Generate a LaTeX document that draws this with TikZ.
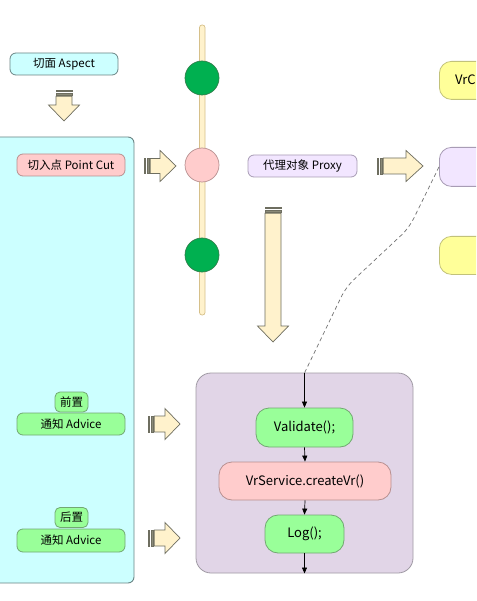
\documentclass[tikz,border=0pt]{standalone}
\usepackage{fontspec}
\setmainfont{Noto Sans CJK SC}
\usetikzlibrary{arrows.meta}
\definecolor{cyanfill}{HTML}{CCFFFF}
\definecolor{cyanline}{HTML}{6B8585}
\definecolor{pinkfill}{HTML}{FFCCCC}
\definecolor{pinkline}{HTML}{B89090}
\definecolor{lavfill}{HTML}{F2E6FF}
\definecolor{lavline}{HTML}{A89CB5}
\definecolor{yelfill}{HTML}{FFFF99}
\definecolor{yelline}{HTML}{C2C27A}
\definecolor{grnfill}{HTML}{99FF99}
\definecolor{grnline}{HTML}{72A872}
\definecolor{panelfill}{HTML}{E1D5E7}
\definecolor{panelline}{HTML}{A09AA4}
\definecolor{barfill}{HTML}{FFF2CC}
\definecolor{barline}{HTML}{D6C08A}
\definecolor{dotgreen}{HTML}{00B050}
\definecolor{dotgreenline}{HTML}{2E7F4A}
\definecolor{arrline}{HTML}{6E6E60}
\definecolor{stripe}{HTML}{8A8A78}
\newcommand\myRarrow[6]{% x0, headx, x1, yc, bodyhalf, headhalf
  \draw[stripebox] (#1,{#4-#5}) rectangle ({#1+1.6},{#4+#5});
  \draw[stripebox] ({#1+2.8},{#4-#5}) rectangle ({#1+5.2},{#4+#5});
  \draw[arrowbody] ({#1+6.2},{#4-#5}) -- (#2,{#4-#5}) -- (#2,{#4-#6}) -- (#3,#4)
     -- (#2,{#4+#6}) -- (#2,{#4+#5}) -- ({#1+6.2},{#4+#5}) -- cycle;
}
\newcommand\myDarrow[6]{% xc, y0, heady, y1, bodyhalf, headhalf
  \draw[stripebox] ({#1-#5},#2) rectangle ({#1+#5},{#2+1.6});
  \draw[stripebox] ({#1-#5},{#2+2.8}) rectangle ({#1+#5},{#2+5.2});
  \draw[arrowbody] ({#1-#5},{#2+6.2}) -- ({#1-#5},#3) -- ({#1-#6},#3) -- (#1,#4)
     -- ({#1+#6},#3) -- ({#1+#5},#3) -- ({#1+#5},{#2+6.2}) -- cycle;
}
\begin{document}
\begin{tikzpicture}[x=1pt,y=-1pt,
  lbl/.style={draw, line width=0.8pt, rounded corners=6pt, inner sep=0pt,
    minimum height=22pt, minimum width=108pt, font=\fontsize{11.5}{13}\selectfont},
  tag/.style={draw=grnline, fill=grnfill, line width=0.8pt, rounded corners=5pt, inner sep=0pt,
    minimum height=20pt, minimum width=33pt, font=\fontsize{11.5}{13}\selectfont},
  flownode/.style={draw=grnline, fill=grnfill, line width=0.8pt, rounded corners=13pt, inner sep=0pt,
    minimum height=38pt, font=\fontsize{13}{15}\selectfont},
  bigbox/.style={line width=0.8pt, rounded corners=12pt, inner sep=0pt, minimum height=38pt, minimum width=100pt},
  stripebox/.style={fill=stripe, draw=arrline, line width=0.5pt},
  arrowbody/.style={fill=barfill, draw=arrline, line width=0.7pt, line join=miter},
  flow/.style={-{Triangle[length=6pt,width=5pt]}, line width=0.7pt, black},
  dot/.style={circle, minimum size=34pt, inner sep=0pt, line width=0.7pt}]
\useasboundingbox (0,0) rectangle (476,601);
\begin{scope}
\clip (0,0) rectangle (476,601);
\fill[white] (0,0) rectangle (476,601);
% left cyan panel
\draw[fill=cyanfill, draw=cyanline, line width=0.9pt, rounded corners=6pt] (-12,137) rectangle (134,583);
% aspect
\node[lbl, fill=cyanfill, draw=cyanline] (aspect) at (64,64) {切面 Aspect};
\myDarrow{64}{90}{105}{121}{8}{15.5}
% point cut
\node[lbl, fill=pinkfill, draw=pinkline] (pointcut) at (71,165) {切入点 Point Cut};
\myRarrow{144}{160}{176}{166}{7.5}{15.5}
% vertical bar with dots
\draw[fill=barfill, draw=barline, line width=0.7pt, rounded corners=2.5pt] (199.5,25) rectangle (205,315);
\node[dot, fill=dotgreen, draw=dotgreenline] (j1) at (202,78) {};
\node[dot, fill=pinkfill, draw=pinkline] (j2) at (202,165) {};
\node[dot, fill=dotgreen, draw=dotgreenline] (j3) at (202,255) {};
% proxy
\node[lbl, fill=lavfill, draw=lavline, minimum width=109pt] (proxy) at (302.5,166) {代理对象 Proxy};
\myRarrow{377}{406}{423}{166}{8}{15.5}
% right column
\node[bigbox, fill=yelfill, draw=yelline, anchor=north west] (vrc) at (439,61) {};
\node[anchor=west, font=\fontsize{13}{15}\selectfont, inner sep=0pt] (vrctext) at (455,80) {VrC};
\node[bigbox, fill=lavfill, draw=lavline, minimum height=39pt, anchor=north west] (proxyobj) at (439,147) {};
\node[bigbox, fill=yelfill, draw=yelline, anchor=north west] (yel2) at (439,236) {};
% long down arrow
\myDarrow{273}{207}{326}{342}{8}{15.5}
% purple panel
\draw[fill=panelfill, draw=panelline, line width=0.8pt, rounded corners=15pt] (196,373) rectangle (413,573);
\node[flownode, minimum width=97pt, minimum height=39pt] (validate) at (304.5,427.5) {Validate();};
\node[flownode, fill=pinkfill, draw=pinkline, minimum width=172pt] (vrs) at (305,481) {VrService.createVr()};
\node[flownode, minimum width=79pt] (log) at (304.5,534) {Log();};
\coordinate (enter) at (304.5,373);
\coordinate (exit) at (304.5,573.5);
\draw[dashed, draw=black!55, line width=0.7pt, dash pattern=on 4pt off 3pt, rounded corners=10pt]
  (proxyobj.west) -- (409,228) -- (346,287) -- (enter);
\draw[flow] (enter) -- (validate.north);
\draw[flow] (validate.south) -- (vrs.north);
\draw[flow] (vrs.south) -- (log.north);
\draw[flow] (log.south) -- (exit);
% advices
\node[lbl, fill=grnfill, draw=grnline] (adv1) at (71,424) {通知 Advice};
\node[tag] (pre) at (71.5,402) {前置};
\node[lbl, fill=grnfill, draw=grnline, minimum height=23pt] (adv2) at (71,540.5) {通知 Advice};
\node[tag] (post) at (71.5,517.5) {后置};
\myRarrow{148}{165}{180}{424}{8}{15.5}
\myRarrow{148}{165}{180}{538}{8}{15.5}
\end{scope}
\end{tikzpicture}
\end{document}
